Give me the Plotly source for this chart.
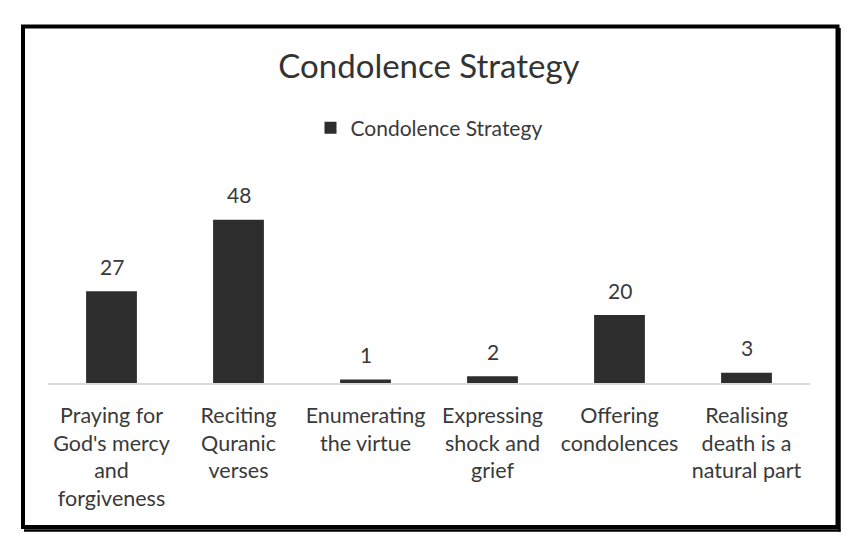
import plotly.graph_objects as go

categories = [
    "Praying for<br>God's mercy<br>and<br>forgiveness",
    "Reciting<br>Quranic<br>verses",
    "Enumerating<br>the virtue",
    "Expressing<br>shock and<br>grief",
    "Offering<br>condolences",
    "Realising<br>death is a<br>natural part",
]
values = [27, 48, 1, 2, 20, 3]
series_name = "Condolence Strategy"
chart_title = "Condolence Strategy"

W, H = 858, 548
L, R, T, B = 48, 48, 179, 165
FONT = "Lato"
BAR = "#2d2d2d"
TXT = "#3a3a3a"

xs = list(range(len(categories)))

fig = go.Figure()
fig.add_trace(go.Bar(
    x=xs, y=values, name=series_name,
    marker=dict(color=BAR, line=dict(width=0)),
    showlegend=True,
))

for xi, v in zip(xs, values):
    fig.add_annotation(x=xi, y=v, xref="x", yref="y", text=str(v),
                       showarrow=False, yanchor="middle", yshift=25,
                       font=dict(family=FONT, size=21, color=TXT))

def px2paper_x(px):
    return (px - L) / (W - L - R)

def px2paper_y(py):
    return (H - B - py) / (H - T - B)

shapes = [
    dict(type="rect", xref="paper", yref="paper",
         x0=px2paper_x(23), x1=px2paper_x(837.5),
         y0=px2paper_y(26.5), y1=px2paper_y(527),
         line=dict(color="#000000", width=4), fillcolor="rgba(0,0,0,0)"),
    dict(type="line", xref="paper", yref="paper",
         x0=px2paper_x(839.5), x1=px2paper_x(839.5),
         y0=px2paper_y(28), y1=px2paper_y(531.5),
         line=dict(color="#000000", width=2.5)),
    dict(type="line", xref="paper", yref="paper",
         x0=px2paper_x(24), x1=px2paper_x(840.5),
         y0=px2paper_y(530.5), y1=px2paper_y(530.5),
         line=dict(color="#000000", width=2.5)),
]

fig.update_layout(
    width=W, height=H,
    margin=dict(l=L, r=R, t=T, b=B, pad=0),
    paper_bgcolor="white", plot_bgcolor="white",
    bargap=0.6,
    title=dict(text=chart_title, x=0.5, xanchor="center", xref="paper",
               y=1 - 66 / H, yref="container", yanchor="middle",
               font=dict(family=FONT, size=33, color="#333333")),
    legend=dict(orientation="h", x=0.5, xanchor="center",
                y=1 - 128 / H, yref="container", yanchor="middle",
                font=dict(family=FONT, size=21, color=TXT),
                itemwidth=30, bgcolor="rgba(0,0,0,0)"),
    xaxis=dict(tickmode="array", tickvals=xs, ticktext=categories,
               range=[-0.5, len(categories) - 0.5],
               showgrid=False, zeroline=False,
               showline=True, linecolor="#d9d9d9", linewidth=1.5,
               ticks="", ticklabelstandoff=12,
               tickfont=dict(family=FONT, size=21.5, color=TXT)),
    yaxis=dict(range=[0, 60], visible=False, showgrid=False, zeroline=False),
    shapes=shapes,
    showlegend=True,
)

fig.write_html("out.html")
